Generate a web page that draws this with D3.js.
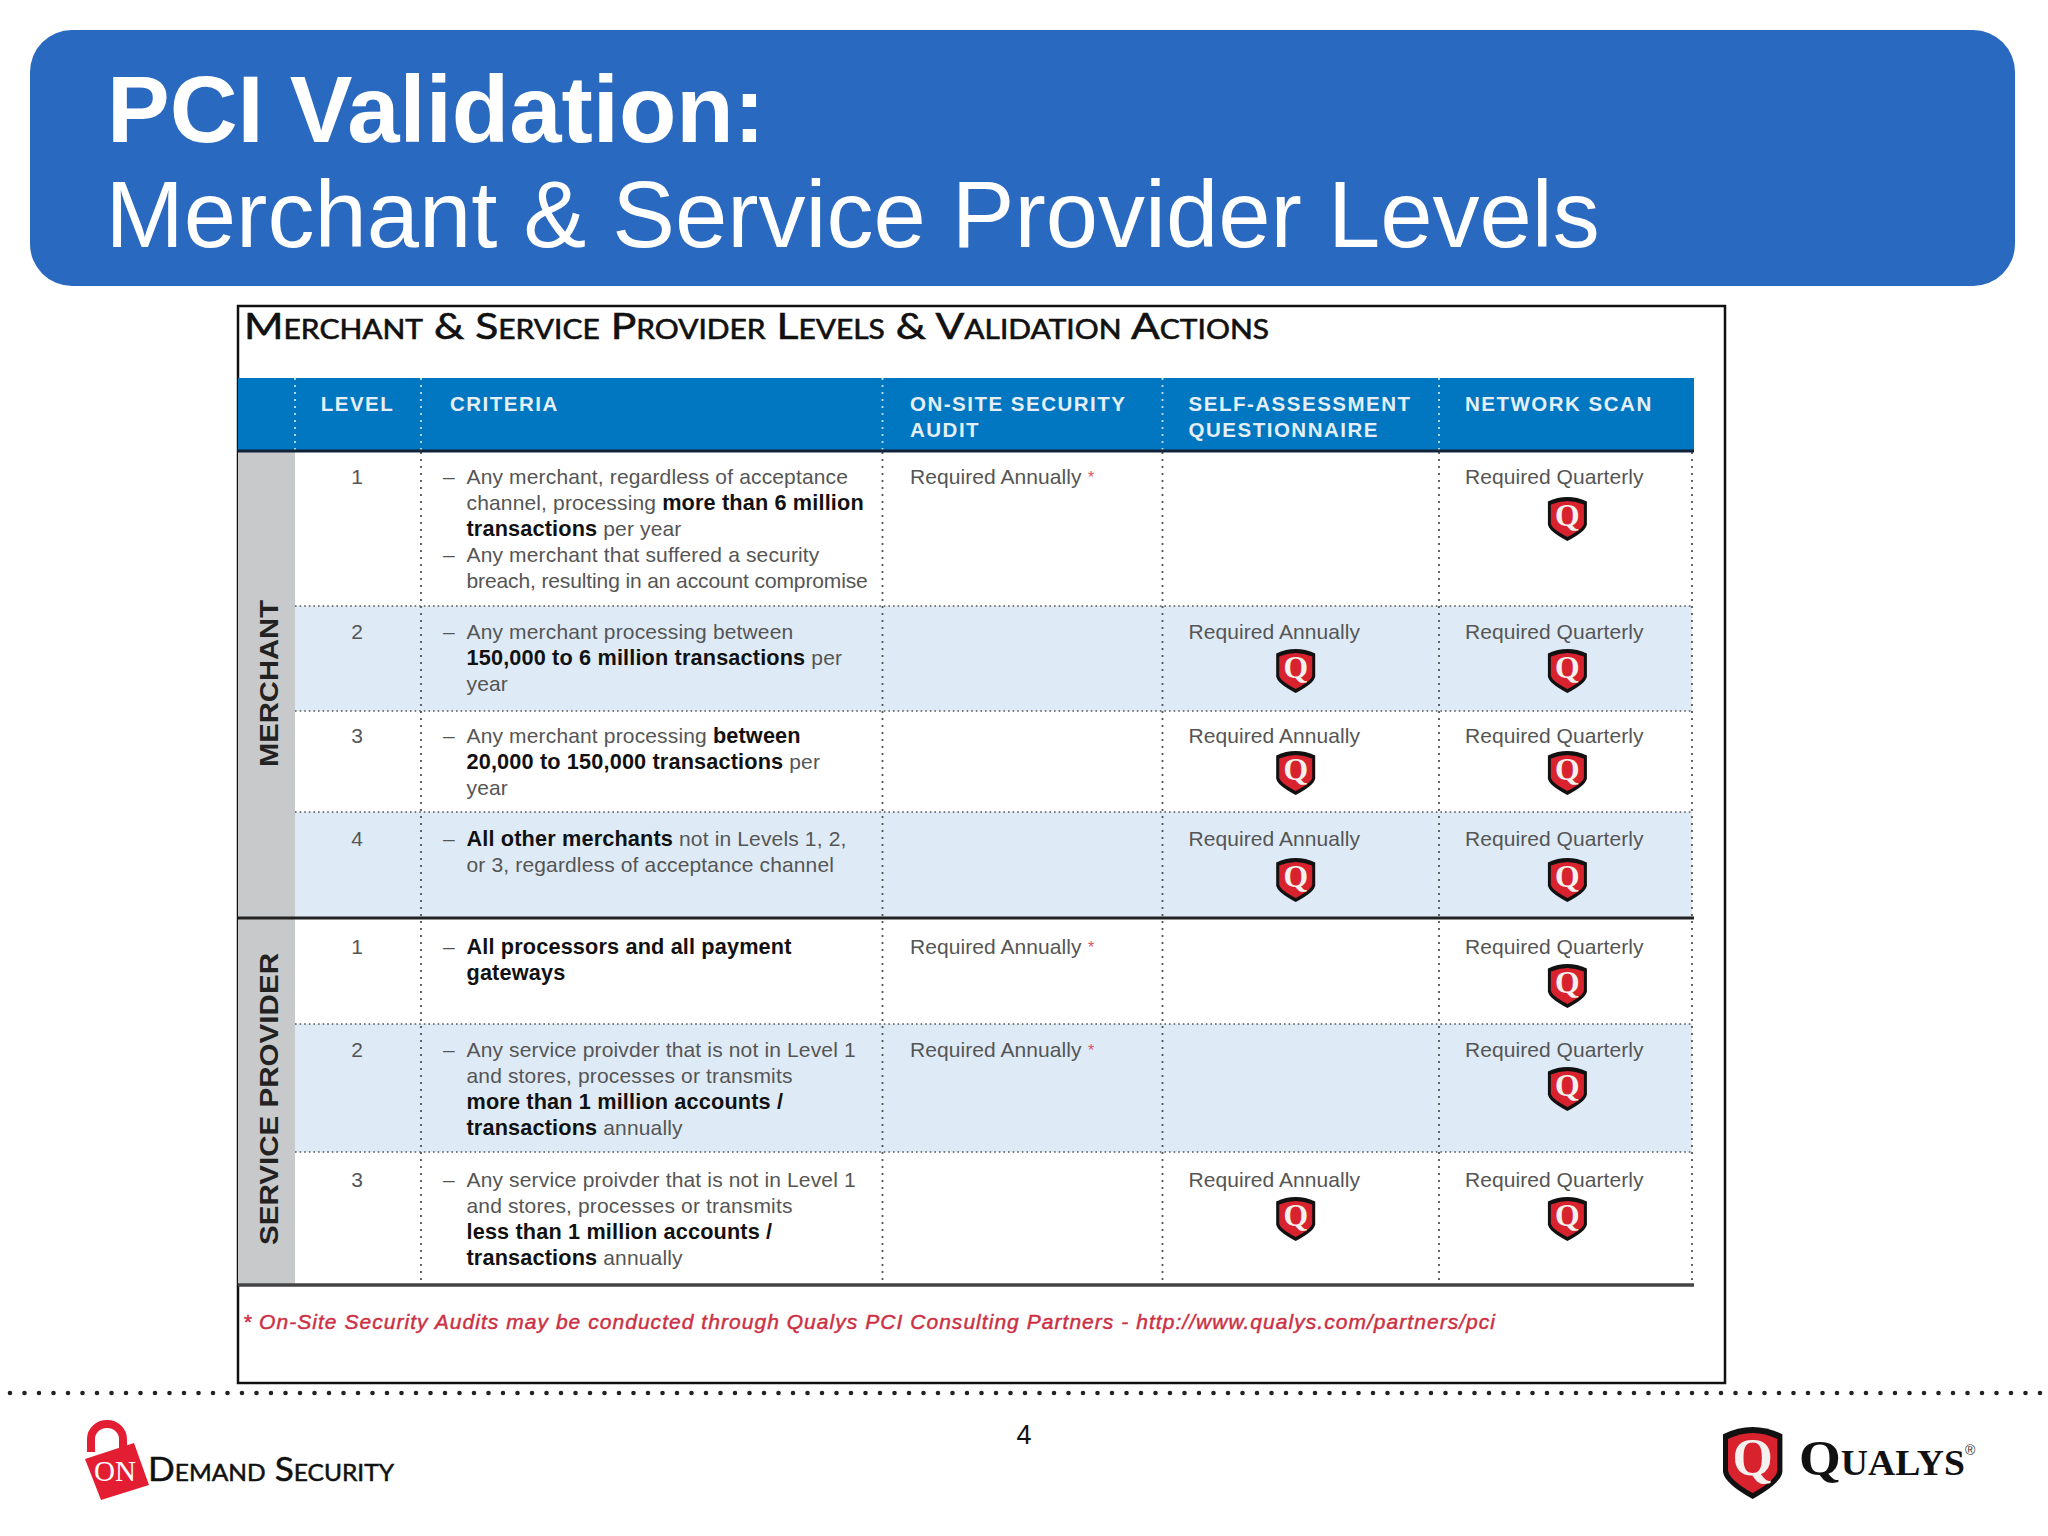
<!DOCTYPE html>
<html>
<head>
<meta charset="utf-8">
<script src="https://cdn.jsdelivr.net/npm/d3@7"></script>
<style>
  body { margin: 0; background: #fff; }
  svg { display: block; }
  text { font-family: "Liberation Sans", sans-serif; white-space: pre; }
</style>
</head>
<body>
<div id="slide"></div>
<script>
// values
var slideTitle = ["PCI Validation:", "Merchant & Service Provider Levels"];
var tableTitle = "Merchant & Service Provider Levels & Validation Actions";
var columnHeads = [["LEVEL"], ["CRITERIA"], ["ON-SITE SECURITY", "AUDIT"], ["SELF-ASSESSMENT", "QUESTIONNAIRE"], ["NETWORK SCAN"]];
var columnIds = ["segment", "level", "criteria", "onsite", "saq", "scan"];
var segments = ["MERCHANT", "SERVICE PROVIDER"];
var rowLevels = ["1", "2", "3", "4", "1", "2", "3"];
var rowCriteria = [
  ["- Any merchant, regardless of acceptance", "channel, processing **more than 6 million**", "**transactions** per year", "- Any merchant that suffered a security", "breach, resulting in an account compromise"],
  ["- Any merchant processing between", "**150,000 to 6 million transactions** per", "year"],
  ["- Any merchant processing **between**", "**20,000 to 150,000 transactions** per", "year"],
  ["- **All other merchants** not in Levels 1, 2,", "or 3, regardless of acceptance channel"],
  ["- **All processors and all payment**", "**gateways**"],
  ["- Any service proivder that is not in Level 1", "and stores, processes or transmits", "**more than 1 million accounts /**", "**transactions** annually"],
  ["- Any service proivder that is not in Level 1", "and stores, processes or transmits", "**less than 1 million accounts /**", "**transactions** annually"]
];
var onSiteAudit = [1, 0, 0, 0, 1, 1, 0];
var selfAssessment = [0, 1, 1, 1, 0, 0, 1];
var networkScan = [1, 1, 1, 1, 1, 1, 1];
var footnote = "* On-Site Security Audits may be conducted through Qualys PCI Consulting Partners - http://www.qualys.com/partners/pci";
var pageNumber = "4";

// layout
var W = 2048, H = 1536;
var colEdges = [238, 295, 421, 882.5, 1162.5, 1439, 1692];
var rowEdges = [451, 606, 711, 812, 918, 1024, 1152, 1285];
var rowBaselines = [484, 639, 743, 846, 954, 1057, 1187];
var shieldTops = [497, 649, 751, 858, 964, 1067, 1197];
var lineStep = 25.9;
var grey = "#555", shieldRed = "#d8232f";

var x = d3.scaleOrdinal().domain(columnIds).range(colEdges);
var y = d3.scaleOrdinal().domain(d3.range(8)).range(rowEdges);

var svg = d3.select("#slide").append("svg").attr("width", W).attr("height", H);

// banner
svg.append("rect").attr("x", 30).attr("y", 30).attr("width", 1985).attr("height", 256).attr("rx", 42).attr("fill", "#2969c0");
svg.selectAll(".slide-title").data(slideTitle).enter().append("text")
  .attr("class", "slide-title")
  .attr("x", function(d, i) { return i ? 105.5 : 107; })
  .attr("y", function(d, i) { return i ? 247 : 142; })
  .attr("font-size", 94)
  .attr("font-weight", function(d, i) { return i ? 400 : 700; })
  .attr("fill", "#fff")
  .text(function(d) { return d; });

// table frame and heading
svg.append("rect").attr("x", 238).attr("y", 306).attr("width", 1487).attr("height", 1077).attr("fill", "#fff").attr("stroke", "#111").attr("stroke-width", 2.5);
svg.append("text").attr("x", 244).attr("y", 339)
  .attr("font-size", 37).style("font-family", "Lato").style("font-variant", "small-caps")
  .attr("fill", "#111").attr("stroke", "#111").attr("stroke-width", 0.6)
  .attr("textLength", 1025).attr("lengthAdjust", "spacingAndGlyphs")
  .text(tableTitle);

// row bands
var rows = d3.range(rowLevels.length);
svg.selectAll(".band").data([1, 3, 5])
  .enter().append("rect").attr("class", "band")
  .attr("x", x("level")).attr("width", colEdges[6] - colEdges[1])
  .attr("y", function(r) { return y(r); })
  .attr("height", function(r) { return y(r + 1) - y(r); })
  .attr("fill", "#deebf7");

// segment column
svg.append("rect").attr("x", 238).attr("y", 451).attr("width", 57).attr("height", 834).attr("fill", "#c8c9cb");
var segLabel = [[278, 683.5, 167], [278, 1099, 292]];
svg.selectAll(".segment").data(segments).enter().append("text")
  .attr("class", "segment")
  .attr("transform", function(d, i) { return "translate(" + segLabel[i][0] + "," + segLabel[i][1] + ") rotate(-90)"; })
  .attr("text-anchor", "middle").attr("font-size", 25).attr("font-weight", 700).attr("fill", "#222")
  .attr("textLength", function(d, i) { return segLabel[i][2]; })
  .attr("lengthAdjust", "spacingAndGlyphs")
  .text(function(d) { return d; });

// header band
svg.append("rect").attr("x", 238).attr("y", 378).attr("width", 1456).attr("height", 73).attr("fill", "#0077c0");
var headX = [320.7, 450, 910, 1188.6, 1465];
columnHeads.forEach(function(lines, c) {
  svg.selectAll(".head" + c).data(lines).enter().append("text")
    .attr("x", headX[c])
    .attr("y", function(d, i) { return 411 + i * 25.7; })
    .attr("font-size", 20.5).attr("font-weight", 700).attr("letter-spacing", 1.5).attr("fill", "#e6eff8")
    .text(function(d) { return d; });
});

// rules
svg.selectAll(".hdot").data([1, 2, 3, 5, 6]).enter().append("line")
  .attr("x1", x("level")).attr("x2", 1692)
  .attr("y1", function(r) { return y(r); }).attr("y2", function(r) { return y(r); })
  .attr("stroke", "#555").attr("stroke-width", 1.7).attr("stroke-dasharray", "1.6 3");
colEdges.slice(1).forEach(function(cx, i) {
  if (i > 0) {
    svg.append("line").attr("x1", cx).attr("x2", cx).attr("y1", 452).attr("y2", 1284)
      .attr("stroke", "#555").attr("stroke-width", 1.8).attr("stroke-dasharray", "2 5");
  }
  if (i < 5) {
    svg.append("line").attr("x1", cx).attr("x2", cx).attr("y1", 378).attr("y2", 450)
      .attr("stroke", "#bfe0f4").attr("stroke-width", 1.8).attr("stroke-dasharray", "2 5");
  }
});
[[451, "#12233a", 3], [918, "#222", 3], [1285, "#444", 3.5]].forEach(function(r) {
  svg.append("line").attr("x1", 238).attr("x2", 1694).attr("y1", r[0]).attr("y2", r[0]).attr("stroke", r[1]).attr("stroke-width", r[2]);
});

// level numbers
svg.selectAll(".level").data(rows).enter().append("text")
  .attr("class", "level").attr("x", 357).attr("y", function(r) { return rowBaselines[r]; })
  .attr("text-anchor", "middle").attr("font-size", 21).attr("fill", grey)
  .text(function(r) { return rowLevels[r]; });

// criteria text, **bold** runs become tspans
rows.forEach(function(r) {
  rowCriteria[r].forEach(function(line, i) {
    var dash = line.indexOf("- ") === 0;
    var lineY = rowBaselines[r] + i * lineStep;
    if (dash) {
      svg.append("text").attr("x", 443).attr("y", lineY).attr("font-size", 21).attr("fill", grey).text("\u2013");
      line = line.slice(2);
    }
    svg.append("text").attr("x", 466.5).attr("y", lineY)
      .attr("letter-spacing", line.indexOf("breach") === 0 ? -0.12 : 0.15)
      .selectAll("tspan").data(line.split("**")).enter().append("tspan")
      .attr("font-size", function(d, k) { return k % 2 ? 21.7 : 21; })
      .attr("font-weight", function(d, k) { return k % 2 ? 700 : 400; })
      .attr("fill", function(d, k) { return k % 2 ? "#111" : grey; })
      .text(function(d) { return d; });
  });
});

// requirement cells
function shield(sel, w, h, stroke) {
  var outline = "M-0.5,0.1 Q-0.25,0 0,0 Q0.25,0 0.5,0.1 L0.5,0.62 Q0.48,0.78 0,1 Q-0.48,0.78 -0.5,0.62 Z";
  sel.append("path").attr("d", outline)
    .attr("transform", "scale(" + w + "," + h + ")")
    .attr("fill", "#111");
  sel.append("path").attr("d", outline)
    .attr("transform", "translate(0," + (stroke + 1) + ") scale(" + (w - stroke * 2) + "," + (h - stroke * 2 - 2) + ")")
    .attr("fill", shieldRed);
  sel.append("text").attr("text-anchor", "middle").attr("y", h * 0.66)
    .attr("font-size", h * 0.72).attr("font-weight", 700).style("font-family", "Liberation Serif").attr("fill", "#f4f1ee").text("Q");
}
var cells = [
  { flags: onSiteAudit, x: 910, label: "Required Annually", icon: null, star: true },
  { flags: selfAssessment, x: 1188.6, label: "Required Annually", icon: 1295.7 },
  { flags: networkScan, x: 1465, label: "Required Quarterly", icon: 1567.4 }
];
cells.forEach(function(col) {
  rows.filter(function(r) { return col.flags[r]; }).forEach(function(r) {
    svg.append("text").attr("x", col.x).attr("y", rowBaselines[r]).attr("font-size", 21).attr("letter-spacing", 0.06).attr("fill", grey).text(col.label);
    if (col.star) svg.append("text").attr("x", 1088).attr("y", rowBaselines[r] - 1).attr("font-size", 16).attr("fill", "#dc5560").text("*");
    if (col.icon) svg.append("g").attr("transform", "translate(" + col.icon + "," + shieldTops[r] + ")").call(shield, 39, 44, 3);
  });
});

// footnote
svg.append("text").attr("x", 243).attr("y", 1329).attr("font-size", 21).attr("font-style", "italic")
  .attr("fill", "#cc3044").attr("stroke", "#cc3044").attr("stroke-width", 0.45)
  .attr("textLength", 1252).attr("lengthAdjust", "spacing").text(footnote);

// dotted divider
svg.append("line").attr("x1", 10).attr("x2", 2044).attr("y1", 1393).attr("y2", 1393)
  .attr("stroke", "#222").attr("stroke-width", 4.6).attr("stroke-linecap", "round").attr("stroke-dasharray", "0 14.5");

svg.append("text").attr("x", 1024).attr("y", 1444).attr("text-anchor", "middle").attr("font-size", 27).attr("fill", "#111").text(pageNumber);

// on demand security logo
svg.append("path").attr("d", "M91,1452 V1439 A16,15 0 0 1 123,1439 V1450").attr("fill", "none").attr("stroke", "#e41e32").attr("stroke-width", 8);
svg.append("path").attr("d", "M85,1459 L134,1443 L149,1485 L101,1500 Z").attr("fill", "#e41e32");
svg.append("text").attr("x", 94).attr("y", 1481).attr("font-size", 29).style("font-family", "Liberation Serif").attr("fill", "#fff").text("ON");
svg.append("text").attr("x", 148).attr("y", 1481).attr("font-size", 33).style("font-family", "Lato").style("font-variant", "small-caps")
  .attr("fill", "#111").attr("stroke", "#111").attr("stroke-width", 0.5)
  .attr("textLength", 246).attr("lengthAdjust", "spacingAndGlyphs").text("Demand Security");

// qualys logo
svg.append("g").attr("transform", "translate(1752.7,1427)").call(shield, 59.4, 72, 5);
svg.append("text").attr("x", 1799).attr("y", 1475).attr("font-size", 50).attr("font-weight", 700).style("font-family", "Liberation Serif").style("font-variant", "small-caps")
  .attr("fill", "#111").attr("textLength", 166).attr("lengthAdjust", "spacingAndGlyphs").text("Qualys");
svg.append("text").attr("x", 1965).attr("y", 1455).attr("font-size", 14).attr("fill", "#333").text("\u00ae");
</script>
</body>
</html>
